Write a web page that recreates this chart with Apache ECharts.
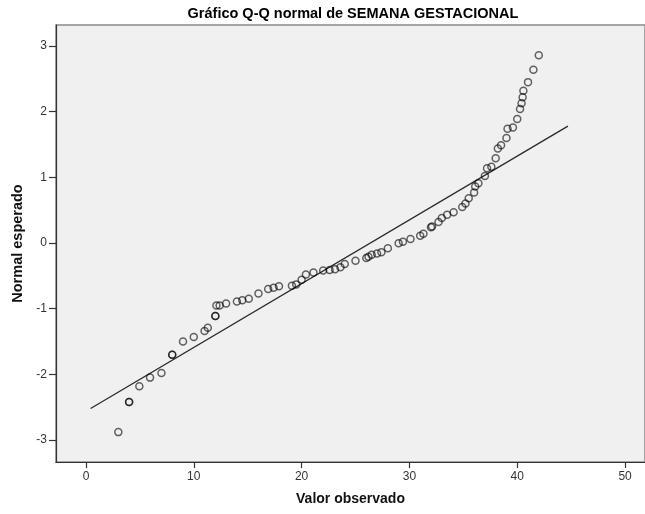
<!DOCTYPE html>
<html>
<head>
<meta charset="utf-8">
<script src="https://cdn.jsdelivr.net/npm/echarts@6/dist/echarts.min.js"></script>
<style>
html,body{margin:0;padding:0;background:#fff;}
#c{width:645px;height:514px;}
</style>
</head>
<body>
<div id="c"></div>
<script>
// Observed values (Valor observado)
var observed = [3.0, 4.0, 4.0, 4.95, 5.94, 7.0, 8.0, 8.0, 9.0, 10.0, 11.0, 11.3, 12.0, 12.0,
  12.1, 12.4, 13.0, 14.0, 14.5, 15.1, 16.0, 16.9, 17.4, 17.9, 19.1, 19.5, 20.0, 20.4, 21.1,
  22.0, 22.6, 23.1, 23.6, 24.0, 25.0, 26.0, 26.2, 26.5, 27.0, 27.4, 28.0, 29.0, 29.4, 30.1,
  31.0, 31.3, 32.0, 32.1, 32.7, 33.0, 33.5, 34.1, 34.9, 35.2, 35.5, 36.0, 36.1, 36.4, 37.0,
  37.2, 37.6, 38.0, 38.2, 38.5, 39.0, 39.1, 39.6, 40.0, 40.26, 40.4, 40.5, 40.57, 41.0, 41.5, 42.0];
// Expected normal values (Normal esperado)
var expected = [-2.88, -2.42, -2.42, -2.18, -2.05, -1.98, -1.70, -1.70, -1.50, -1.43, -1.34, -1.29, -1.11, -1.11,
  -0.95, -0.95, -0.92, -0.89, -0.87, -0.85, -0.77, -0.70, -0.68, -0.66, -0.65, -0.63, -0.56, -0.48, -0.45,
  -0.42, -0.41, -0.40, -0.37, -0.32, -0.27, -0.23, -0.21, -0.18, -0.16, -0.14, -0.08, -0.005, 0.02, 0.06,
  0.11, 0.14, 0.24, 0.25, 0.32, 0.38, 0.43, 0.47, 0.55, 0.60, 0.68, 0.77, 0.86, 0.91, 1.02,
  1.14, 1.16, 1.29, 1.44, 1.49, 1.60, 1.74, 1.76, 1.89, 2.04, 2.13, 2.22, 2.32, 2.45, 2.64, 2.86];
// Reference line endpoints
var lineX = [0.43, 44.7];
var lineY = [-2.52, 1.78];
// Tick labels
var xTicks = [0, 10, 20, 30, 40, 50];
var yTicks = [-3, -2, -1, 0, 1, 2, 3];

var pts = observed.map(function (v, i) { return [v, expected[i]]; });
var linePts = lineX.map(function (v, i) { return [v, lineY[i]]; });

var FONT = 'Liberation Sans, Arial, sans-serif';
var chart = echarts.init(document.getElementById('c'), null, {renderer: 'canvas'});
chart.setOption({
  animation: false,
  backgroundColor: '#ffffff',
  title: {
    text: 'Gráfico Q-Q normal de SEMANA GESTACIONAL',
    left: 348, top: 1, textAlign: 'center',
    textStyle: {fontFamily: FONT, fontSize: 14.5, fontWeight: 'bold', color: '#000'}
  },
  grid: {left: 56, right: -1, top: 25, bottom: 52, show: true, backgroundColor: '#f0f0f0', borderColor: '#8a8a8a', borderWidth: 1.5, containLabel: false},
  xAxis: {
    type: 'value', min: -2.78, max: 51.85,
    name: 'Valor observado', nameLocation: 'middle', nameGap: 30,
    nameTextStyle: {fontFamily: FONT, fontSize: 14, fontWeight: 'bold', color: '#111'},
    axisLine: {show: true, onZero: false, lineStyle: {color: '#333', width: 1.2}},
    axisTick: {show: true, length: 6, customValues: xTicks, lineStyle: {color: '#333', width: 1.2}},
    axisLabel: {customValues: xTicks, margin: 9, fontFamily: FONT, fontSize: 12, color: '#333'},
    splitLine: {show: false}
  },
  yAxis: {
    type: 'value', min: -3.335, max: 3.32,
    name: 'Normal esperado', nameLocation: 'middle', nameGap: 31,
    nameTextStyle: {fontFamily: FONT, fontSize: 14.5, fontWeight: 'bold', color: '#111'},
    axisLine: {show: true, onZero: false, lineStyle: {color: '#333', width: 1.2}},
    axisTick: {show: true, length: 7, customValues: yTicks, lineStyle: {color: '#333', width: 1.2}},
    axisLabel: {customValues: yTicks, margin: 9, fontFamily: FONT, fontSize: 12, color: '#333'},
    splitLine: {show: false}
  },
  series: [
    {
      type: 'line', data: linePts, symbol: 'none', silent: true,
      lineStyle: {color: '#2a2a2a', width: 1.3}, z: 2
    },
    {
      type: 'scatter', data: pts, symbol: 'circle', symbolSize: 7,
      itemStyle: {color: 'rgba(0,0,0,0)', borderColor: 'rgba(0,0,0,0.75)', borderWidth: 1.5}, z: 3
    }
  ]
});
</script>
</body>
</html>
